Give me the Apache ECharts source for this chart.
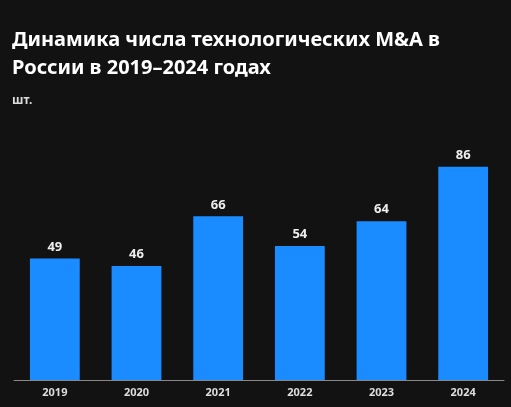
<!DOCTYPE html>
<html><head><meta charset="utf-8">
<script src="https://cdn.jsdelivr.net/npm/echarts@6/dist/echarts.min.js"></script>
<style>html,body{margin:0;background:#121212}#c{width:511px;height:407px}</style>
</head><body><div id="c"></div>
<script>
const categories=['2019','2020','2021','2022','2023','2024'];
const values=[49,46,66,54,64,86];
const ch=echarts.init(document.getElementById('c'));
ch.setOption({
  backgroundColor:'#121212',
  title:[{text:'Динамика числа технологических M&A в\nРоссии в 2019–2024 годах',left:7,top:21,
    textStyle:{color:'#fff',fontFamily:'Noto Sans',fontWeight:'bold',fontSize:20,lineHeight:28}},
    {text:'шт.',left:7,top:90,textStyle:{color:'#ddd',fontFamily:'Noto Sans',fontSize:12,fontWeight:'bold'}}],
  grid:{left:14,right:7,top:132,bottom:27},
  xAxis:{type:'category',data:categories,axisTick:{show:false},
    axisLine:{lineStyle:{color:'#888'}},
    axisLabel:{color:'#ddd',fontFamily:'Noto Sans',fontSize:11,fontWeight:'bold',margin:7}},
  yAxis:{type:'value',min:0,max:100,show:false,splitLine:{show:false}},
  series:[{type:'bar',data:values,barWidth:'61%',itemStyle:{color:'#1a8cff'},
    label:{show:true,position:'top',color:'#eee',fontFamily:'Noto Sans',fontSize:13,fontWeight:'bold',distance:5}}]
});
</script></body></html>
